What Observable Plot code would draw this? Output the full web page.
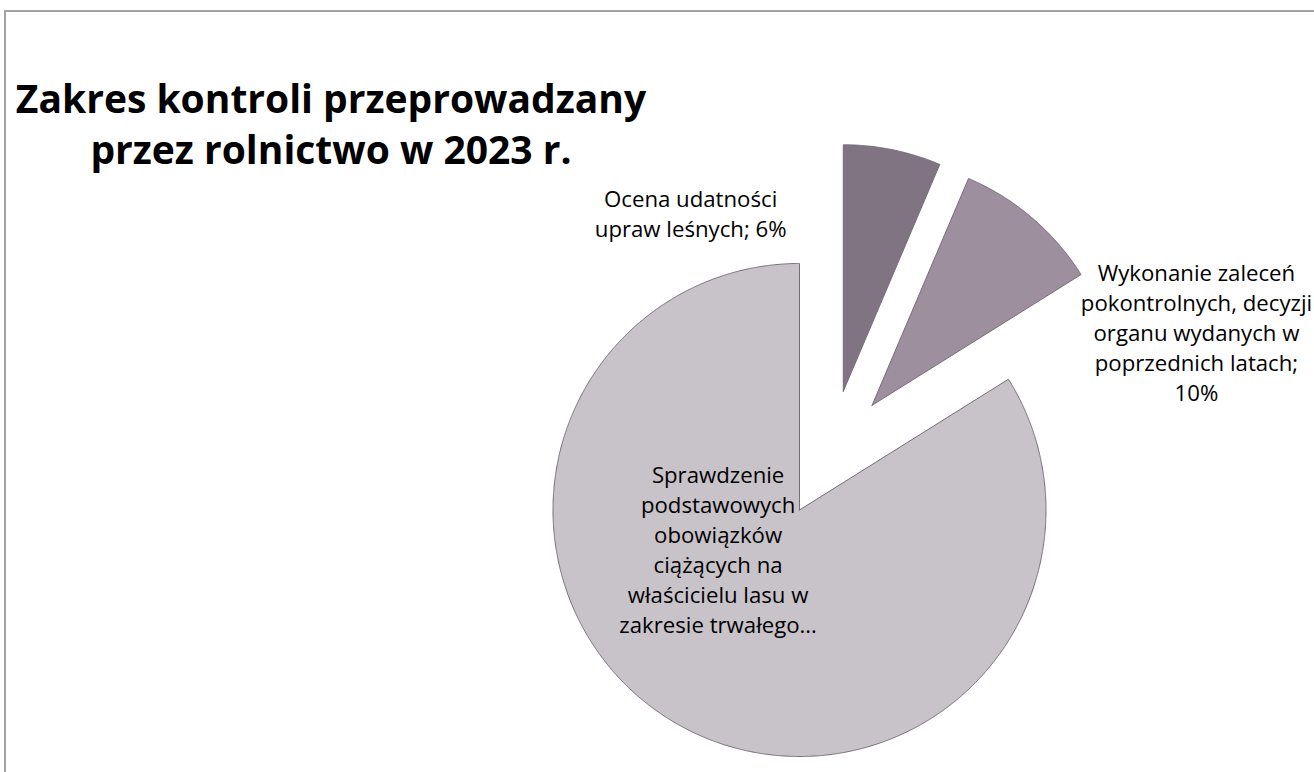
<!DOCTYPE html>
<html><head><meta charset="utf-8">
<script src="https://cdn.jsdelivr.net/npm/d3@7"></script>
<script src="https://cdn.jsdelivr.net/npm/@observablehq/plot@0.6"></script>
<style>
html,body{margin:0;padding:0;background:#fff}
body{width:1314px;height:772px;overflow:hidden;position:relative;font-family:"Open Sans",sans-serif}
#frame{position:absolute;left:4px;top:10px;width:1400px;height:900px;border-top:2px solid #a3a3a3;border-left:2px solid #a3a3a3;box-sizing:border-box}
#chart{position:absolute;left:0;top:0}
#title{position:absolute;left:0;top:72px;width:662px;text-align:center;font-family:"Open Sans",sans-serif;font-weight:700;font-size:39px;line-height:51px;color:#000;white-space:nowrap}
</style></head>
<body>
<div id="frame"></div>
<div id="chart"></div>
<div id="title">Zakres kontroli przeprowadzany<br>przez rolnictwo w 2023 r.</div>
<script>
// ---- data ----
const categories = [
  "Ocena udatności upraw leśnych",
  "Wykonanie zaleceń pokontrolnych, decyzji organu wydanych w poprzednich latach",
  "Sprawdzenie podstawowych obowiązków ciążących na właścicielu lasu w zakresie trwałego…"
];
const shares = [6.4, 9.7, 83.9];
const labelTexts = [
  "Ocena udatności\nupraw leśnych; 6%",
  "Wykonanie zaleceń\npokontrolnych, decyzji\norganu wydanych w\npoprzednich latach;\n10%",
  "Sprawdzenie\npodstawowych\nobowiązków\nciążących na\nwłaścicielu lasu w\nzakresie trwałego…"
];
const colors = ["#807482", "#9d8f9e", "#c8c3c9"];

// ---- layout ----
const W = 1314, H = 772;
const C = [830, 453.5], R = 246.5, EXPLODE = 64;
// label placement: angle (deg, clockwise from top) and distance from exploded slice centre
const labelPlace = [[319.5, 235], [77.1, 332.8], [244.6, 90.1]];

const total = d3.sum(shares);
let acc = 0;
const slices = shares.map((v, i) => {
  const a0 = acc / total * 2 * Math.PI; acc += v;
  const a1 = acc / total * 2 * Math.PI;
  const mid = (a0 + a1) / 2;
  return {i, a0, a1, mid, cx: C[0] + EXPLODE * Math.sin(mid), cy: C[1] - EXPLODE * Math.cos(mid)};
});
const pts = [];
for (const s of slices) {
  const k = categories[s.i];
  pts.push({k, x: s.cx, y: s.cy});
  const n = Math.ceil((s.a1 - s.a0) / (Math.PI / 720));
  for (let j = 0; j <= n; j++) {
    const a = s.a0 + (s.a1 - s.a0) * j / n;
    pts.push({k, x: s.cx + R * Math.sin(a), y: s.cy - R * Math.cos(a)});
  }
  pts.push({k, x: s.cx, y: s.cy});
}
const labelData = slices.map(s => {
  const [ang, dist] = labelPlace[s.i];
  const a = ang * Math.PI / 180;
  return {t: labelTexts[s.i], x: s.cx + dist * Math.sin(a), y: s.cy - dist * Math.cos(a)};
});

const chart = Plot.plot({
  width: W, height: H, margin: 0,
  style: {background: "transparent", fontFamily: "'Open Sans', sans-serif"},
  x: {domain: [0, W], range: [0, W], axis: null},
  y: {domain: [0, H], range: [0, H], axis: null},
  color: {domain: categories, range: colors},
  marks: [
    Plot.line(pts, {x: "x", y: "y", z: "k", fill: "k", stroke: "#766c78", strokeWidth: 1, curve: "linear"}),
    Plot.text(labelData, {x: "x", y: "y", text: "t", fontSize: 22.2, lineHeight: 1.35, fill: "#000", textAnchor: "middle"})
  ]
});
document.getElementById("chart").appendChild(chart);
</script>
</body></html>
